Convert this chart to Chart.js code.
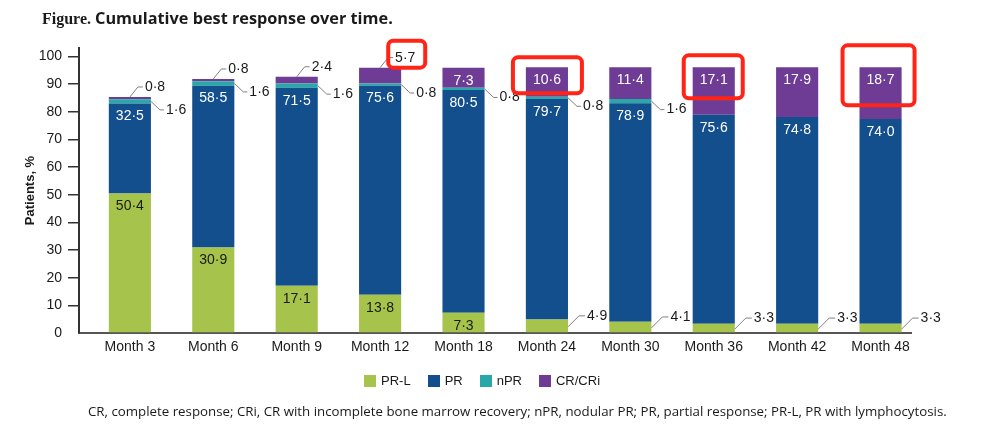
<!DOCTYPE html>
<html>
<head>
<meta charset="utf-8">
<script src="https://cdn.jsdelivr.net/npm/chart.js@4.4.1/dist/chart.umd.min.js"></script>
<style>
  body { margin: 0; background: #fff; }
  #page { position: relative; width: 981px; height: 447px; overflow: hidden; font-family: "Liberation Sans", Arial, sans-serif; color: #1a1a1a; }
  #wrap { position: absolute; left: 0; top: 0; width: 981px; height: 447px; }
  #title { position: absolute; left: 42px; top: 7px; white-space: nowrap; }
  #title .fig { font-family: "Liberation Serif", serif; font-weight: bold; font-size: 16px; }
  #title .main { font-family: "Open Sans", sans-serif; font-weight: bold; font-size: 16px; margin-left: 4px; }
  #legend { position: absolute; left: 364px; top: 373px; display: flex; align-items: center; font-size: 13px; }
  #legend .item { display: flex; align-items: center; margin-right: 17px; }
  #legend .box { width: 12px; height: 12px; margin-right: 5px; }
  #note { position: absolute; left: 88px; top: 402px; white-space: nowrap; font-family: "Open Sans", sans-serif; font-size: 12px; }
</style>
</head>
<body>
<div id="page">
  <div id="wrap"><canvas id="chart"></canvas></div>
  <div id="title"><span class="fig">Figure.</span><span class="main">Cumulative best response over time.</span></div>
  <div id="legend"></div>
  <div id="note">CR, complete response; CRi, CR with incomplete bone marrow recovery; nPR, nodular PR; PR, partial response; PR-L, PR with lymphocytosis.</div>
</div>
<script>
// Données (% de patients)
const categories = ['Month 3', 'Month 6', 'Month 9', 'Month 12', 'Month 18', 'Month 24', 'Month 30', 'Month 36', 'Month 42', 'Month 48'];
const prL = [50.4, 30.9, 17.1, 13.8, 7.3, 4.9, 4.1, 3.3, 3.3, 3.3];
const pr = [32.5, 58.5, 71.5, 75.6, 80.5, 79.7, 78.9, 75.6, 74.8, 74.0];
const nPr = [1.6, 1.6, 1.6, 0.8, 0.8, 0.8, 1.6, 0, 0, 0];
const crCri = [0.8, 0.8, 2.4, 5.7, 7.3, 10.6, 11.4, 17.1, 17.9, 18.7];
const seriesNames = ['PR-L', 'PR', 'nPR', 'CR/CRi'];
const yTicks = [0, 10, 20, 30, 40, 50, 60, 70, 80, 90, 100];

const colors = ['#a6c34b', '#134f8c', '#29a8a9', '#6f3c95'];
const labelColors = ['#1a1a1a', '#ffffff', '#ffffff', '#ffffff'];

// cadres rouges autour de certaines étiquettes CR/CRi (marges en px autour du centre de l'étiquette)
const highlights = [
  { month: 'Month 12', left: 17, right: 20, top: 17, bottom: 10 },
  { month: 'Month 24', left: 34, right: 35, top: 23, bottom: 13 },
  { month: 'Month 36', left: 30, right: 29, top: 25, bottom: 18 },
  { month: 'Month 48', left: 38, right: 34, top: 35, bottom: 25 }
];

const fmt = v => v.toFixed(1).replace('.', '\u00b7');

const toPoints = arr => arr.map((v, i) => ({ x: i, y: v }));

// Étiquettes de valeurs (dans la barre ou avec trait de rappel)
const valueLabels = {
  id: 'valueLabels',
  afterDatasetsDraw(chart) {
    const ctx = chart.ctx;
    const crCenters = {};
    ctx.save();
    ctx.font = '14px "Liberation Sans", Arial, sans-serif';
    ctx.textBaseline = 'middle';
    ctx.lineWidth = 1;
    ctx.strokeStyle = '#808080';

    const callout = (pts, tx, ty, text) => {
      ctx.beginPath();
      ctx.moveTo(pts[0][0], pts[0][1]);
      for (let k = 1; k < pts.length; k++) ctx.lineTo(pts[k][0], pts[k][1]);
      ctx.stroke();
      ctx.fillStyle = '#1a1a1a';
      ctx.textAlign = 'left';
      ctx.fillText(text, tx, ty);
      return tx + ctx.measureText(text).width / 2;
    };

    chart.data.datasets.forEach((ds, di) => {
      const meta = chart.getDatasetMeta(di);
      meta.data.forEach((bar, i) => {
        const v = ds.data[i].y;
        if (!v) return;
        const top = Math.min(bar.y, bar.base);
        const bottom = Math.max(bar.y, bar.base);
        const mid = (top + bottom) / 2;
        const right = bar.x + bar.width / 2;
        const text = fmt(v);
        let cx, cy;

        if (ds.label === 'nPR') {
          cy = mid + 8.5;
          cx = callout([[right, mid], [right + 9, cy], [right + 13, cy]], right + 15, cy, text);
        } else if (v < 6 && ds.label === 'CR/CRi') {
          cy = top - 10;
          cx = callout([[bar.x, top], [bar.x + 8, cy], [bar.x + 13, cy]], bar.x + 15, cy, text);
        } else if (v < 6) {
          cy = mid - 10;
          cx = callout([[right, mid + 1], [right + 11, cy], [right + 17, cy]], right + 19, cy, text);
        } else {
          cx = bar.x;
          cy = top + 13;
          ctx.fillStyle = labelColors[di];
          ctx.textAlign = 'center';
          ctx.fillText(text, cx, cy);
        }
        if (ds.label === 'CR/CRi') crCenters[categories[i]] = { cx, cy };
      });
    });

    // cadres rouges
    ctx.strokeStyle = '#ff2416';
    ctx.lineWidth = 4;
    highlights.forEach(h => {
      const c = crCenters[h.month];
      if (!c) return;
      ctx.beginPath();
      ctx.roundRect(c.cx - h.left, c.cy - h.top, h.left + h.right, h.top + h.bottom, 5);
      ctx.stroke();
    });
    ctx.restore();
  }
};

const datasets = [prL, pr, nPr, crCri].map((arr, k) => ({
  label: seriesNames[k],
  data: toPoints(arr),
  backgroundColor: colors[k],
  borderWidth: 0,
  categoryPercentage: 1,
  barPercentage: 0.505
}));

const chart = new Chart(document.getElementById('chart').getContext('2d'), {
  type: 'bar',
  data: { datasets },
  options: {
    responsive: true,
    maintainAspectRatio: false,
    animation: false,
    layout: { padding: { top: 48, right: 70, left: 0, bottom: 0 } },
    plugins: {
      legend: { display: false },
      tooltip: { enabled: false }
    },
    scales: {
      x: {
        type: 'linear',
        stacked: true,
        offset: false,
        min: -0.61,
        max: 9.365,
        afterBuildTicks: scale => { scale.ticks = categories.map((c, i) => ({ value: i })); },
        afterFit: scale => { scale.height = 114; },
        ticks: {
          callback: value => categories[value],
          color: '#1a1a1a',
          font: { family: '"Liberation Sans", Arial, sans-serif', size: 14 },
          padding: 6,
          maxRotation: 0,
          autoSkip: false
        },
        grid: { display: true, offset: false, drawOnChartArea: false, drawTicks: false },
        border: { display: true, color: '#555', width: 2 }
      },
      y: {
        stacked: true,
        min: 0,
        max: 103,
        afterBuildTicks: scale => { scale.ticks = yTicks.map(v => ({ value: v })); },
        afterFit: scale => { scale.width = 79; },
        ticks: {
          color: '#1a1a1a',
          font: { family: '"Liberation Sans", Arial, sans-serif', size: 14 },
          padding: 6
        },
        grid: {
          drawOnChartArea: false,
          drawTicks: true,
          tickLength: 11,
          lineWidth: 1.5,
          color: c => (c.tick && c.tick.value === 0 ? 'rgba(0,0,0,0)' : '#333')
        },
        border: { display: true, color: '#333', width: 2 },
        title: {
          display: true,
          text: 'Patients, %',
          color: '#1a1a1a',
          font: { family: '"Liberation Sans", Arial, sans-serif', size: 13, weight: 'bold' },
          padding: { top: 23, bottom: 0 }
        }
      }
    }
  },
  plugins: [valueLabels]
});

// Légende construite à partir des séries
const legendEl = document.getElementById('legend');
chart.data.datasets.forEach(ds => {
  const item = document.createElement('div');
  item.className = 'item';
  item.innerHTML = '<span class="box" style="background:' + ds.backgroundColor + '"></span><span>' + ds.label + '</span>';
  legendEl.appendChild(item);
});

// Ajuster la largeur des textes à la figure
const fitWidth = (el, target) => {
  const size = parseFloat(getComputedStyle(el).fontSize);
  const w = el.getBoundingClientRect().width;
  if (w > 0) el.style.fontSize = (size * target / w).toFixed(2) + 'px';
};
document.fonts.ready.then(() => {
  fitWidth(document.querySelector('#title .main'), 298);
  fitWidth(document.getElementById('note'), 859);
});
</script>
</body>
</html>
